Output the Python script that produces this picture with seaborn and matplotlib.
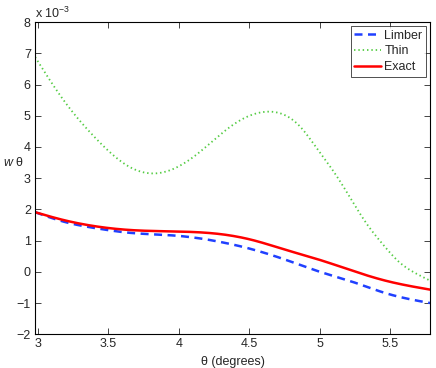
import matplotlib
matplotlib.use("Agg")
import matplotlib.pyplot as plt
import seaborn as sns
import pandas as pd
import numpy as np

# data (values in units of 1e-3)
theta_thin = [2.98, 3.18, 3.42, 3.65, 3.85, 4.12, 4.38, 4.62, 4.86, 4.97, 5.09, 5.21, 5.33, 5.45, 5.56, 5.68, 5.78]
w_thin = [6.88, 5.51, 4.23, 3.36, 3.16, 3.74, 4.70, 5.13, 4.65, 4.01, 3.26, 2.41, 1.55, 0.86, 0.32, -0.05, -0.28]

theta_exact = [2.98, 3.18, 3.42, 3.65, 4.00, 4.29, 4.52, 4.76, 5.00, 5.23, 5.47, 5.78]
w_exact = [1.91, 1.66, 1.45, 1.34, 1.29, 1.21, 1.02, 0.70, 0.38, 0.035, -0.29, -0.57]

theta_limber = [2.98, 3.18, 3.42, 3.65, 4.00, 4.29, 4.52, 4.76, 5.00, 5.23, 5.47, 5.78]
w_limber = [1.91, 1.61, 1.39, 1.25, 1.15, 0.96, 0.72, 0.38, 0.0, -0.32, -0.69, -1.00]

series_names = ["Limber", "Thin", "Exact"]

sns.set_style("ticks")
plt.rcParams['font.family'] = ['Liberation Sans', 'DejaVu Sans']
plt.rcParams['mathtext.fontset'] = 'custom'
plt.rcParams['mathtext.it'] = 'Liberation Sans:italic'
plt.rcParams['mathtext.rm'] = 'Liberation Sans'


def spline(x, y, n=300):
    """Natural cubic spline through the read points."""
    x = np.asarray(x, float); y = np.asarray(y, float)
    N = len(x)
    h = np.diff(x)
    A = np.zeros((N, N)); b = np.zeros(N)
    A[0, 0] = 1; A[-1, -1] = 1
    for i in range(1, N - 1):
        A[i, i - 1] = h[i - 1]
        A[i, i] = 2 * (h[i - 1] + h[i])
        A[i, i + 1] = h[i]
        b[i] = 6 * ((y[i + 1] - y[i]) / h[i] - (y[i] - y[i - 1]) / h[i - 1])
    M = np.linalg.solve(A, b)
    xs = np.linspace(x[0], x[-1], n)
    k = np.clip(np.searchsorted(x, xs) - 1, 0, N - 2)
    hk = h[k]
    t1 = x[k + 1] - xs
    t0 = xs - x[k]
    ys = (M[k] * t1**3 / (6 * hk) + M[k + 1] * t0**3 / (6 * hk)
          + (y[k] / hk - M[k] * hk / 6) * t1 + (y[k + 1] / hk - M[k + 1] * hk / 6) * t0)
    return xs, ys


frames = []
for name, tx, wy in [("Limber", theta_limber, w_limber), ("Thin", theta_thin, w_thin), ("Exact", theta_exact, w_exact)]:
    xs, ys = spline(tx, wy)
    frames.append(pd.DataFrame({"theta": xs, "w": ys, "series": name}))
df = pd.concat(frames, ignore_index=True)

fig = plt.figure(figsize=(4.36, 3.68), dpi=100)
ax = fig.add_axes([0.0803, 0.0918, 0.9057, 0.848])

palette = {"Limber": "#2040ff", "Thin": "#55cc44", "Exact": "#ff0000"}
widths = {"Limber": 1.8, "Thin": 1.3, "Exact": 1.8}
styles = {"Limber": (0, (3.2, 2.2)), "Thin": (0, (0.8, 1.6)), "Exact": "-"}

for name in series_names:
    sub = df[df["series"] == name]
    sns.lineplot(data=sub, x="theta", y="w", ax=ax, color=palette[name],
                 linewidth=widths[name], linestyle=styles[name], label=name,
                 estimator=None, sort=False)

ax.set_xlim(2.979, 5.78)
ax.set_ylim(-2, 8)
ax.set_xticks([3, 3.5, 4, 4.5, 5, 5.5])
ax.set_xticklabels(["3", "3.5", "4", "4.5", "5", "5.5"])
ax.set_yticks(range(-2, 9))
ax.set_yticklabels(["\u22122", "\u22121", "0", "1", "2", "3", "4", "5", "6", "7", "8"])
ax.tick_params(direction="in", length=4, width=0.6, labelsize=9, top=True, right=True, pad=3)
for s in ax.spines.values():
    s.set_visible(True)
    s.set_linewidth(0.8)
    s.set_color("black")

ax.set_xlabel("\u03b8 (degrees)", fontsize=9, labelpad=4)
ax.set_ylabel("$w$ \u03b8", fontsize=9, rotation=0, va="center", ha="center")
ax.yaxis.set_label_coords(-0.055, 0.55)
ax.text(0.0, 1.003, "x 10$^{-3}$", transform=ax.transAxes, fontsize=9, ha="left", va="bottom")

leg = ax.legend(loc="upper right", fontsize=9, frameon=True, fancybox=False,
                edgecolor="black", handlelength=2.1, borderpad=0.3, labelspacing=0.3,
                handletextpad=0.3, borderaxespad=0.3)
leg.get_frame().set_linewidth(0.6)

fig.savefig("out.png", dpi=100)
